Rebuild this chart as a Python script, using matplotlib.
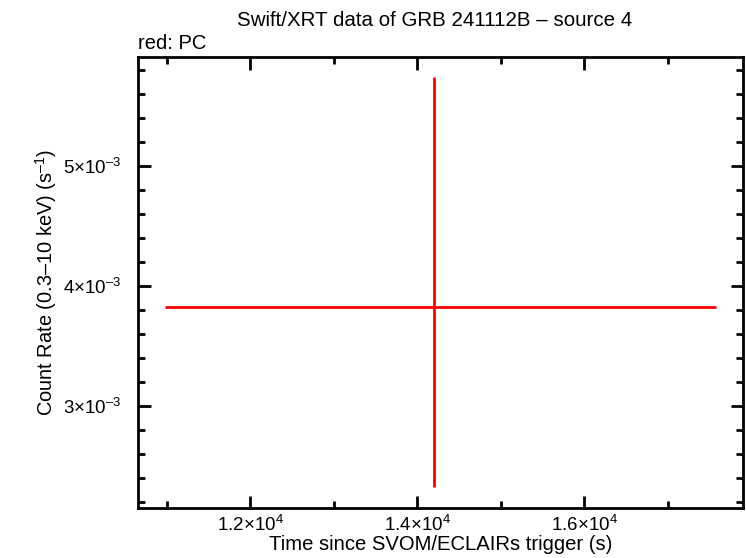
import matplotlib
matplotlib.use('Agg')
import matplotlib.pyplot as plt
from matplotlib.ticker import MultipleLocator, FuncFormatter

plt.rcParams['font.family'] = ['Liberation Sans', 'DejaVu Sans']
plt.rcParams['mathtext.fontset'] = 'custom'
plt.rcParams['mathtext.rm'] = 'Liberation Sans'
plt.rcParams['mathtext.it'] = 'Liberation Sans:italic'

# data (PC mode)
t = [14203]
t_lo = [10976]
t_hi = [17576]
rate = [3.825e-3]
rate_lo = [2.325e-3]
rate_hi = [5.742e-3]

xerr = [[t[0] - t_lo[0]], [t_hi[0] - t[0]]]
yerr = [[rate[0] - rate_lo[0]], [rate_hi[0] - rate[0]]]

fig = plt.figure(figsize=(7.46, 5.58), dpi=100)
ax = fig.add_axes([0.185, 0.09, 0.811, 0.808])

ax.errorbar(t, rate, xerr=xerr, yerr=yerr, fmt='none', ecolor='red',
            elinewidth=2, capsize=0)

ax.set_xlim(10654, 17898)
ax.set_ylim(2.15e-3, 5.908e-3)

ax.xaxis.set_major_locator(MultipleLocator(2000))
ax.xaxis.set_minor_locator(MultipleLocator(1000))
ax.yaxis.set_major_locator(MultipleLocator(1e-3))
ax.yaxis.set_minor_locator(MultipleLocator(2e-4))


def fmt_x(v, pos):
    return r'$%.1f{\times}10^{4}$' % (v / 1e4)


def fmt_y(v, pos):
    return '$%d{\\times}10^{\u2013 3}$' % round(v / 1e-3)


ax.xaxis.set_major_formatter(FuncFormatter(fmt_x))
ax.yaxis.set_major_formatter(FuncFormatter(fmt_y))

ax.tick_params(which='both', direction='in', top=True, right=True,
               width=2, labelsize=13.5)
ax.tick_params(axis='x', pad=5)
ax.tick_params(axis='y', pad=12)
ax.tick_params(which='major', length=9)
ax.tick_params(which='minor', length=5)
for s in ax.spines.values():
    s.set_linewidth(2)

ax.set_xlabel('Time since SVOM/ECLAIRs trigger (s)', fontsize=14.6, labelpad=0)
ax.set_ylabel('Count Rate (0.3\u201310 keV) (s$^{\u20131}$)', fontsize=14.4, labelpad=3)

fig.text(0.583, 0.963, 'Swift/XRT data of GRB 241112B \u2013 source 4',
         ha='center', va='center', fontsize=14.8)
fig.text(0.185, 0.922, 'red: PC', ha='left', va='center', fontsize=14.5)

fig.savefig('out.png', dpi=100)
